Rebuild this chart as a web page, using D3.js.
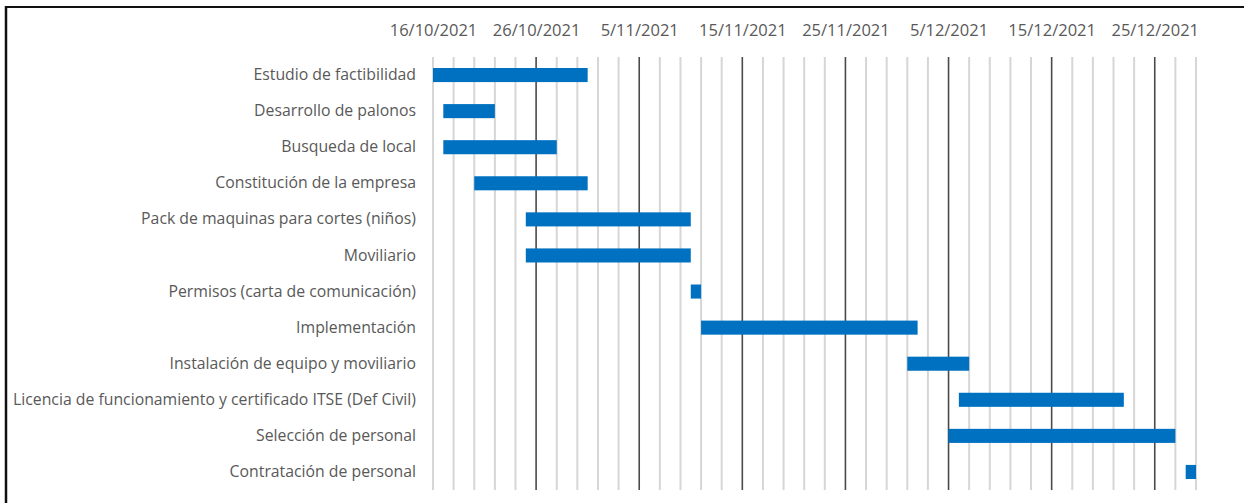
<!DOCTYPE html>
<html>
<head>
<meta charset="utf-8">
<script src="https://cdn.jsdelivr.net/npm/d3@7"></script>
<style>
  html, body { margin: 0; padding: 0; background: #ffffff; }
  svg { display: block; }
  text { font-family: "Open Sans", "Noto Sans", sans-serif; fill: #595959; }
</style>
</head>
<body>
<svg id="chart" width="1244" height="503"></svg>
<script>
// Project schedule: task names, start dates and durations in days
const tasks = [
  "Estudio de factibilidad",
  "Desarrollo de palonos",
  "Busqueda de local",
  "Constitución de la empresa",
  "Pack de maquinas para cortes (niños)",
  "Moviliario",
  "Permisos (carta de comunicación)",
  "Implementación ",
  "Instalación de equipo y moviliario",
  "Licencia de funcionamiento y certificado ITSE (Def Civil)",
  "Selección de personal",
  "Contratación de personal"
];
const startDates = [
  "2021-10-16", "2021-10-17", "2021-10-17", "2021-10-20",
  "2021-10-25", "2021-10-25", "2021-11-10", "2021-11-11",
  "2021-12-01", "2021-12-06", "2021-12-05", "2021-12-28"
];
const durations = [15, 5, 11, 11, 16, 16, 1, 21, 6, 16, 22, 1];

// Axis settings: date range, label dates (every 10 days), minor grid step (2 days)
const axisStart = "2021-10-16";
const axisEnd = "2021-12-29";
const tickDates = [
  "2021-10-16", "2021-10-26", "2021-11-05", "2021-11-15",
  "2021-11-25", "2021-12-05", "2021-12-15", "2021-12-25"
];
const minorStepDays = 2;

const parse = d3.utcParse("%Y-%m-%d");
const fmt = d3.utcFormat("%-d/%m/%Y");
const DAY = 864e5;

const svg = d3.select("#chart");

// Frame around the chart
svg.append("line").attr("x1", 6).attr("x2", 1244).attr("y1", 7).attr("y2", 7)
  .attr("stroke", "#111").attr("stroke-width", 2);
svg.append("line").attr("x1", 6).attr("x2", 6).attr("y1", 6).attr("y2", 503)
  .attr("stroke", "#111").attr("stroke-width", 2.5);

const plotTop = 57, plotBottom = 490;

const x = d3.scaleUtc()
  .domain([parse(axisStart), parse(axisEnd)])
  .range([433, 1196]);

const y = d3.scaleBand()
  .domain(tasks)
  .range([plotTop, plotBottom])
  .paddingInner(0.61)
  .paddingOuter(0.305);

// Minor gridlines every two days
const minorDates = d3.range(parse(axisStart).getTime(), parse(axisEnd).getTime() + 1, minorStepDays * DAY)
  .map(t => new Date(t));
const majorSet = new Set(tickDates.slice(1).map(d => parse(d).getTime()));

svg.append("g").selectAll("line")
  .data(minorDates.filter(d => !majorSet.has(d.getTime())))
  .join("line")
  .attr("x1", d => x(d)).attr("x2", d => x(d))
  .attr("y1", plotTop).attr("y2", plotBottom)
  .attr("stroke", "#d6d6d6").attr("stroke-width", 2);

// Major gridlines every ten days
svg.append("g").selectAll("line")
  .data(tickDates.slice(1).map(parse))
  .join("line")
  .attr("x1", d => x(d)).attr("x2", d => x(d))
  .attr("y1", plotTop).attr("y2", plotBottom)
  .attr("stroke", "#4a4a4a").attr("stroke-width", 1.6);

// Date labels along the top
const xAxis = d3.axisTop(x)
  .tickValues(tickDates.map(parse))
  .tickFormat(fmt)
  .tickSize(0)
  .tickPadding(0);
const gx = svg.append("g").attr("transform", "translate(0,36)").call(xAxis);
gx.select(".domain").remove();
gx.selectAll("text")
  .attr("font-size", 16.5)
  .attr("font-family", "'Open Sans', sans-serif")
  .attr("fill", "#595959");

// Task labels
const yAxis = d3.axisLeft(y).tickSize(0).tickPadding(0);
const gy = svg.append("g").attr("transform", "translate(416,0)").call(yAxis);
gy.select(".domain").remove();
gy.selectAll("text")
  .attr("font-size", 15.8)
  .attr("font-family", "'Open Sans', sans-serif")
  .attr("fill", "#595959");

// Task bars
const bars = tasks.map((t, i) => {
  const s = parse(startDates[i]);
  return { task: t, start: s, end: new Date(s.getTime() + durations[i] * DAY) };
});
svg.append("g").selectAll("rect")
  .data(bars)
  .join("rect")
  .attr("x", d => x(d.start))
  .attr("y", d => y(d.task))
  .attr("width", d => x(d.end) - x(d.start))
  .attr("height", y.bandwidth())
  .attr("fill", "#0070c0");
</script>
</body>
</html>
